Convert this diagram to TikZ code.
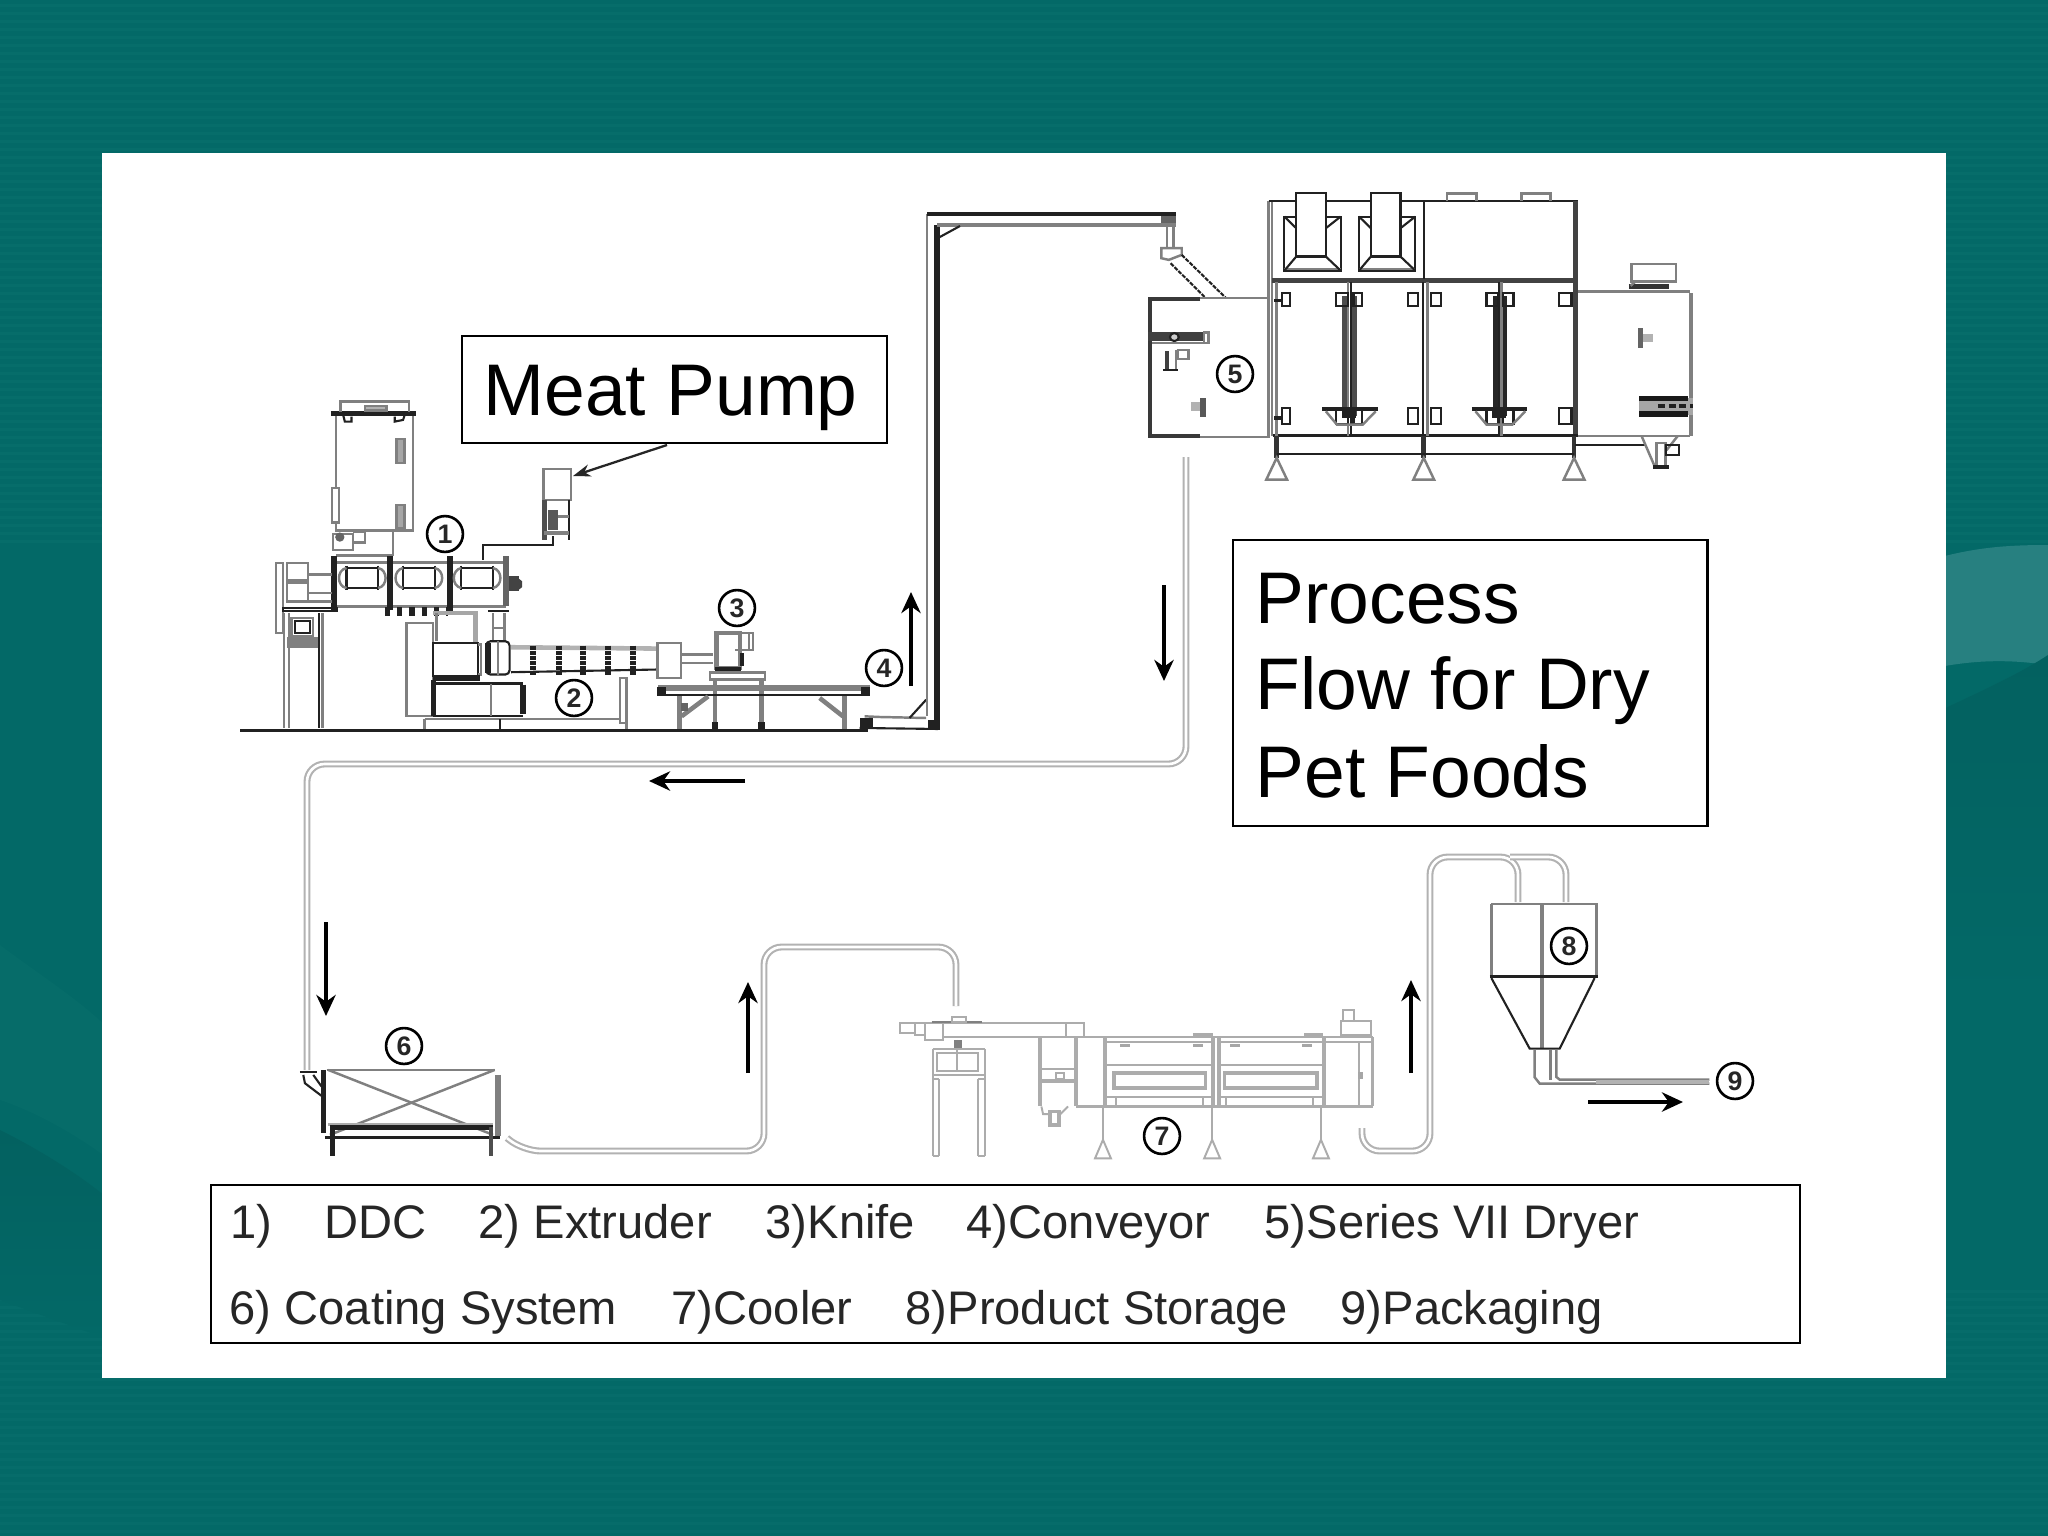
\documentclass[tikz,border=0pt]{standalone}
\usepackage{fontspec}
\setmainfont{Liberation Sans}
\usetikzlibrary{arrows.meta}
\definecolor{tealbg}{HTML}{036967}
\definecolor{tealstripe}{HTML}{0E7572}
\definecolor{tealswoosh}{HTML}{278080}
\definecolor{tealdark}{HTML}{036160}
\definecolor{tealmid}{HTML}{066C69}
\definecolor{gl}{gray}{0.5}
\definecolor{dk}{gray}{0.13}
\tikzset{
  z/.style 2 args={shift={(#1,#2)},x=0.0033333cm,y=-0.0033333cm},
  zw/.style 2 args={shift={(#1,#2)},x=0.0036996cm,y=-0.0033333cm},
  g/.style={draw=gl,line width=0.7pt},
  gt/.style={draw=gl,line width=1.3pt},
  k/.style={draw=dk,line width=0.6pt},
  kt/.style={draw=dk,line width=1.5pt},
  lg/.style={draw=gray!65,line width=0.55pt},
  lgt/.style={draw=gray!65,line width=1.1pt},
  label text/.style={font=\fontsize{20.8pt}{25pt}\selectfont,anchor=base west,inner sep=0pt,text=black},
  legend text/.style={font=\fontsize{13.4pt}{16pt}\selectfont,anchor=base west,inner sep=0pt,text=black!85},
  circnum/.style={circle,draw=black,line width=0.75pt,minimum size=10.2pt,inner sep=0pt,font=\fontsize{7.6pt}{8pt}\selectfont\bfseries,text=black!85},
  framebox/.style={draw=black,line width=0.7pt,fill=white,outer sep=0pt},
  flow/.style={draw=black,line width=1.35pt,-{Stealth[length=6pt,width=5.5pt]}},
  pipe/.style={draw=gray!60,double=white,double distance=0.75pt,line width=0.6pt,rounded corners=5pt},
}
\begin{document}
\begin{tikzpicture}[x=0.01cm,y=-0.01cm]
\useasboundingbox (0,0) rectangle (2048,1536);
% background
\fill[tealbg] (0,0) rectangle (2048,1536);
\foreach \yy in {4,12,...,540}{\fill[tealstripe,opacity=0.35] (0,\yy) rectangle (2048,\yy+2.5);}
\foreach \yy in {1290,1298,...,1536}{\fill[tealstripe,opacity=0.3] (0,\yy) rectangle (2048,\yy+2.5);}
\fill[tealswoosh] (1900,570) .. controls (1960,548) and (2000,545) .. (2048,545) -- (2048,665) .. controls (2000,658) and (1960,660) .. (1900,676) -- cycle;
\shade[top color=tealdark,bottom color=tealbg] (1900,730) .. controls (1960,700) and (2010,680) .. (2048,655) -- (2048,1000) -- (1900,1000) -- cycle;
\shade[top color=tealdark,bottom color=tealbg] (0,1130) .. controls (40,1150) and (80,1175) .. (110,1200) -- (110,1340) -- (0,1300) -- cycle;
\fill[tealmid] (0,945) .. controls (40,975) and (80,1000) .. (110,1030) -- (110,1160) .. controls (70,1130) and (30,1110) .. (0,1100) -- cycle;
% white panel
\fill[white] (102,153) rectangle (1946,1378);

% ---------- Machine group 1/2 (DDC, extruder, pump)
\begin{scope}[z={230}{380}]
  % hopper
  \draw[g] (318,100) rectangle (550,452);
  \draw[kt] (303,100) -- (560,100);
  \draw[g] (332,95) -- (332,65) -- (538,65) -- (538,95);
  \draw[g,fill=gray!60] (405,92) rectangle (470,78);
  \draw[k] (340,105) -- (345,125) -- (365,125) -- (365,110);
  \draw[k] (495,110) -- (495,125) -- (520,120) -- (525,105);
  \draw[g,fill=gray!70] (500,178) rectangle (524,250);
  \draw[g,fill=gray!70] (500,375) rectangle (524,445);
  \draw[g,fill=white] (307,325) rectangle (328,428);
  % valve below hopper
  \draw[g] (310,462) rectangle (370,510);
  \draw[g] (370,455) -- (405,455) -- (405,488) -- (370,488);
  \fill[dk!70] (330,472) circle (14);
  \draw[g] (490,452) -- (490,530);
  \draw[g] (320,528) -- (490,528);
  % barrels
  \draw[g] (320,548) -- (830,548);
  \draw[g] (320,680) -- (830,680);
  \draw[kt,line width=1.7pt] (312,530) -- (312,695);
  \draw[kt,line width=1.7pt] (482,530) -- (482,690);
  \draw[kt,line width=1.7pt] (660,530) -- (660,695);
  \draw[gt,draw=dk!70,line width=1.7pt] (830,530) -- (830,680);
  \foreach \xx in {350,520,695}{
    \draw[k] (\xx,565) -- (\xx+95,565);
    \draw[k] (\xx,625) -- (\xx+95,625);
    \draw[k] (\xx,558) -- (\xx,632);
    \draw[k] (\xx+95,558) -- (\xx+95,632);
    \draw[g] (\xx,565) .. controls (\xx-30,570) and (\xx-30,620) .. (\xx,625);
    \draw[g] (\xx+95,565) .. controls (\xx+125,570) and (\xx+125,620) .. (\xx+95,625);
  }
  \fill[dk!85] (838,590) rectangle (868,635);
  \fill[dk!85] (868,597) -- (878,605) -- (878,622) -- (868,630) -- cycle;
  % left gear
  \draw[g] (138,550) rectangle (160,760);
  \draw[g] (172,550) rectangle (235,665);
  \draw[gt] (172,605) -- (235,605);
  \draw[g] (235,585) -- (305,585);
  \draw[g] (235,640) -- (305,640);
  \draw[g] (235,665) -- (305,665);
  \draw[k] (160,685) -- (320,685) -- (320,695) -- (160,695) -- cycle;
  \draw[g] (163,700) -- (163,1045);
  \draw[g] (178,700) -- (178,1045);
  \draw[k] (268,700) -- (268,1045);
  \draw[g] (278,700) -- (278,1045);
  \draw[g] (185,715) rectangle (250,770);
  \draw[k] (195,725) rectangle (240,760);
  \fill[gl] (172,772) rectangle (265,805);
  % lower barrel link
  \draw[kt,dotted,line width=2.4pt] (465,695) -- (655,695);
  \draw[gt,draw=gray!70] (610,700) -- (738,700) -- (738,790);
  \draw[g] (620,700) -- (620,785);
  % stem
  \draw[g] (790,700) -- (790,785);
  \draw[g] (825,700) -- (825,785);
  \draw[k] (775,695) -- (838,695);
  \draw[g] (790,745) -- (825,745);
  % motor
  \draw[g] (530,730) rectangle (610,1010);
  \draw[k] (610,790) rectangle (745,890);
  \draw[g] (745,795) -- (755,795) -- (755,885) -- (745,885);
  \draw[kt] (610,895) -- (750,895);
  \draw[k] (610,912) -- (880,912);
  \draw[k] (610,1010) -- (880,1010);
  \draw[kt] (612,900) -- (612,1010);
  \draw[g] (785,912) -- (785,1010);
  \draw[kt] (880,915) -- (880,1005);
  \draw[g] (585,1018) -- (1170,1018);
  \draw[g] (585,1018) -- (585,1048);
  \draw[k] (810,1018) -- (810,1048);
  \draw[g] (1172,895) rectangle (1192,1030);
  \draw[g] (1192,1030) -- (1192,1050);
  % extruder barrel
  \draw[k,rounded corners=1.2pt] (770,785) rectangle (840,885);
  \draw[kt] (775,790) -- (775,880);
  \draw[g] (805,785) -- (805,885);
  \draw[gt,draw=gray!60] (845,803) -- (1280,807);
  \draw[k] (845,878) -- (1280,870);
  \foreach \xx in {910,990,1060,1135,1212}{\draw[dk,line width=1.7pt,dash pattern=on 1.2pt off 0.25pt] (\xx,798) -- (\xx,885);}
  \draw[g] (1285,790) rectangle (1355,895);
  \draw[g] (1355,825) -- (1450,825);
  \draw[g] (1355,850) -- (1450,850);
  % meat pump
  \draw[g] (942,268) rectangle (1025,360);
  \draw[kt,draw=dk!80] (945,360) -- (945,482);
  \draw[k] (1018,360) -- (1018,482);
  \fill[dk!75] (955,390) rectangle (985,450);
  \draw[g] (985,410) -- (1018,410);
  \draw[gt] (945,460) -- (1018,460);
  \draw[k] (760,540) -- (760,497) -- (970,497) -- (970,470);
\end{scope}

% ---------- knife, table, conveyor foot
\begin{scope}[z={620}{500}]
  \draw[gt] (290,400) rectangle (360,505);
  \draw[g] (345,400) -- (400,400) -- (400,450) -- (345,450);
  \draw[g] (388,400) -- (388,450);
  \fill[dk] (360,460) rectangle (372,500);
  \draw[kt] (285,510) -- (365,510);
  \draw[g] (270,518) rectangle (435,540);
  \draw[gt] (285,540) -- (285,685);
  \draw[gt] (425,540) -- (425,685);
  \fill[dk] (275,668) rectangle (295,688);
  \fill[dk] (415,668) rectangle (435,688);
  \draw[gt,line width=1.7pt] (115,565) -- (750,565);
  \draw[k] (115,587) -- (750,587);
  \fill[dk] (112,563) rectangle (138,590);
  \fill[dk] (725,563) rectangle (752,590);
  \draw[gt] (178,590) -- (178,690);
  \draw[gt] (675,590) -- (675,690);
  \draw[gt] (185,650) -- (265,590);
  \fill[dk!70] (183,610) rectangle (205,635);
  \draw[gt] (600,595) -- (670,650);
  % conveyor foot
  \draw[g] (735,650) -- (780,652) -- (920,655);
  \draw[k] (720,685) -- (955,688);
  \fill[dk] (722,655) rectangle (760,685);
  \draw[k] (870,655) -- (920,600);
  \fill[dk] (925,662) rectangle (955,690);
\end{scope}

% ---------- dryer
\begin{scope}[zw={1130}{180}]
  % conveyor head
  \fill[dk!70] (85,105) rectangle (125,135);
  \draw[g] (100,135) -- (100,200);
  \draw[g] (118,135) -- (118,200);
  \draw[g,fill=white] (85,205) -- (140,205) -- (140,225) -- (105,240) -- (85,235) -- cycle;
  \draw[k,dash pattern=on 1.2pt off 0.35pt] (110,250) -- (205,355);
  \draw[k,dash pattern=on 1.2pt off 0.35pt] (140,225) -- (260,355);
  % infeed box
  \draw[gt,draw=gray!45!black,line width=1.1pt] (190,358) -- (55,358) -- (55,770) -- (190,770);
  \draw[g] (190,355) -- (380,355);
  \draw[g] (190,773) -- (380,773);
  \draw[draw=gray!50!black,line width=2.6pt] (50,470) -- (200,470);
  \draw[g] (200,458) rectangle (212,490);
  \draw[k,fill=gray!40] (120,472) circle (12);
  \draw[g] (60,490) -- (200,490);
  \draw[g] (130,510) rectangle (158,538);
  \draw[gt,draw=gray!50!black] (100,515) -- (100,570);
  \draw[g] (125,510) -- (125,570);
  \draw[k] (90,572) -- (130,572);
  \fill[dk!75] (190,655) rectangle (206,712);
  \fill[gray!60] (165,668) rectangle (190,695);
  % dryer frame
  \draw[g] (375,62) -- (375,770);
  \draw[g] (385,62) -- (385,770);
  \draw[k] (375,62) -- (1212,62);
  \draw[kt,draw=dk!85] (385,301) -- (1205,301);
  \draw[kt,draw=dk!85] (1206,62) -- (1206,770);
  \draw[k] (796,62) -- (796,298);
  \draw[kt,line width=1pt] (388,768) -- (1212,768);
  \draw[g] (397,305) -- (397,768);
  \draw[g] (590,305) -- (590,768);
  \draw[k] (598,305) -- (598,768);
  \draw[k] (792,305) -- (792,770);
  \draw[g] (805,305) -- (805,768);
  \draw[k] (998,305) -- (998,768);
  \draw[g] (1005,305) -- (1005,768);
  \draw[gt,draw=gray!60!black] (580,350) -- (580,710);
  \draw[gt,draw=gray!60!black] (608,350) -- (608,710);
  \draw[gt,draw=gray!30!black] (990,350) -- (990,710);
  \draw[gt,draw=gray!30!black] (1015,350) -- (1015,710);
  % ducts
  \foreach \dd in {0,202}{
    \begin{scope}[xshift=\dd*0.0036996cm]
      \draw[k] (418,110) rectangle (570,272);
      \draw[g] (418,268) -- (570,268);
      \draw[k,fill=white] (450,40) -- (530,40) -- (530,230) -- (450,230) -- cycle;
      \draw[k] (450,230) -- (418,272);
      \draw[k] (530,230) -- (570,272);
      \draw[k] (418,110) -- (450,145);
      \draw[k] (570,110) -- (530,145);
    \end{scope}
  }
  \draw[g] (858,62) -- (858,40) -- (938,40) -- (938,62);
  \draw[g] (1060,62) -- (1060,40) -- (1138,40) -- (1138,62);
  % hinges
  \foreach \xa/\xb in {412/433,558/590,605/628,752/780,815/842,965/995,1010/1038,1162/1195}{
    \draw[k] (\xa,340) rectangle (\xb,378);
    \draw[k] (\xa,685) rectangle (\xb,733);
  }
  \draw[kt,line width=1pt] (390,362) -- (412,362);
  \draw[kt,line width=1pt] (390,715) -- (412,715);
  % funnels
  \foreach \dd in {0,405}{
    \begin{scope}[xshift=\dd*0.0036996cm]
      \draw[kt,line width=1.2pt] (520,688) -- (670,688);
      \draw[g] (530,695) -- (560,735) -- (630,735) -- (665,695);
      \fill[dk] (575,695) rectangle (612,715);
    \end{scope}
  }
  % legs
  \foreach \xx in {397,795,1202}{
    \draw[gt,draw=gray!40!black] (\xx,770) -- (\xx,835);
    \draw[g] (\xx,835) -- (\xx-28,900) -- (\xx+28,900) -- cycle;
  }
  \draw[k] (397,822) -- (1202,822);
  % right section
  \draw[g] (1212,335) -- (1515,335);
  \draw[gt] (1518,340) -- (1518,770);
  \draw[g] (1212,770) -- (1515,770);
  \draw[g] (1358,252) rectangle (1478,305);
  \draw[kt,draw=gray!40!black] (1350,320) -- (1460,320);
  \draw[g] (1368,305) -- (1355,318);
  \fill[dk!70] (1375,445) rectangle (1388,505);
  \fill[gray!60] (1388,462) rectangle (1415,488);
  \fill[gray!70] (1378,655) rectangle (1525,705);
  \draw[kt,draw=gray!20!black] (1378,657) -- (1510,657);
  \draw[kt,draw=gray!20!black] (1378,703) -- (1510,703);
  \draw[k,dash pattern=on 2pt off 1pt,line width=1.2pt] (1430,680) -- (1525,680);
  \draw[k] (1205,795) -- (1395,795);
  \draw[g] (1385,770) -- (1420,860);
  \draw[g] (1482,770) -- (1452,812);
  \draw[g] (1425,790) rectangle (1450,860);
  \draw[k] (1450,795) rectangle (1485,825);
  \draw[kt,line width=1.2pt] (1415,862) -- (1460,862);
\end{scope}

% ---------- coating system
\begin{scope}[z={280}{1020}]
  \draw[g] (140,150) -- (645,150);
  \draw[g] (145,150) -- (640,345);
  \draw[g] (645,150) -- (150,345);
  \fill[gray!65] (145,310) rectangle (640,318);
  \draw[kt] (130,150) -- (130,340);
  \draw[gt,line width=1.6pt] (655,165) -- (655,350);
  \draw[kt] (150,322) -- (640,322);
  \draw[k,line width=0.9pt] (135,352) -- (660,352);
  \draw[kt,line width=1.2pt] (158,322) -- (158,408);
  \draw[kt,line width=1.2pt,draw=dk!80] (633,322) -- (633,408);
  \draw[k] (60,155) -- (110,155);
  \draw[k] (70,165) -- (75,190) -- (125,228);
  \draw[k] (100,165) -- (125,200);
\end{scope}

% ---------- cooler
\begin{scope}[z={880}{980}]
  \draw[lg] (60,130) rectangle (105,160);
  \draw[lg] (105,130) rectangle (135,165);
  \draw[lg] (135,130) rectangle (190,180);
  \draw[lg] (190,130) -- (612,130) -- (612,172);
  \draw[lg] (190,172) -- (670,172);
  \draw[lg] (560,130) -- (560,172);
  \draw[g] (155,126) -- (305,126);
  \draw[lg] (215,112) rectangle (258,125);
  % stand
  \draw[lg] (158,208) -- (315,208);
  \draw[lg] (158,208) -- (158,530);
  \draw[lg] (315,208) -- (315,530);
  \draw[lg] (178,298) -- (178,530);
  \draw[lg] (295,298) -- (295,530);
  \draw[lg] (158,298) -- (178,298);
  \draw[lg] (295,298) -- (315,298);
  \draw[lg] (158,285) -- (315,285);
  \draw[lg] (172,220) rectangle (295,272);
  \draw[lg] (232,180) -- (232,270);
  \draw[lg] (158,530) -- (178,530);
  \draw[lg] (295,530) -- (315,530);
  \fill[gl] (222,180) rectangle (245,205);
  % hopper box
  \draw[lgt] (482,172) -- (482,380);
  \draw[lgt] (590,172) -- (590,380);
  \draw[lg] (482,268) -- (590,268);
  \draw[lgt] (482,303) -- (590,303);
  \draw[lg] (528,280) rectangle (552,296);
  \draw[lg] (485,380) -- (490,403) -- (510,403);
  \draw[lg] (565,380) -- (540,405);
  \draw[lgt] (512,395) rectangle (538,435);
  % main body
  \draw[lg] (590,172) -- (1480,172);
  \draw[lgt] (590,380) -- (1480,380);
  \foreach \xa/\xb in {680/1000,1020/1335}{
    \draw[lg] (\xa,187) -- (\xb,187);
    \draw[lg] (\xa,256) -- (\xb,256);
    \draw[lg] (\xa,352) -- (\xb,352);
  }
  \draw[lgt] (675,172) -- (675,380);
  \draw[lgt] (1000,172) -- (1000,380);
  \draw[lgt] (1018,172) -- (1018,380);
  \draw[lgt] (1335,172) -- (1335,380);
  \draw[lgt] (1480,172) -- (1480,380);
  \draw[lgt] (703,280) rectangle (978,325);
  \draw[lgt] (1035,280) rectangle (1312,325);
  \draw[lgt] (940,166) -- (1000,166);
  \draw[lgt] (1275,166) -- (1330,166);
  \foreach \xx in {720,940,1052,1268}{\fill[gray!70] (\xx,192) rectangle (\xx+30,202);}
  \foreach \xx in {710,970,1040,1300}{\draw[lg] (\xx,355) -- (\xx,378);}
  \draw[lg] (1440,187) -- (1440,380);
  \draw[lg] (1340,187) -- (1480,187);
  \draw[lg] (1385,122) rectangle (1475,165);
  \draw[lg] (1392,90) rectangle (1425,122);
  \fill[gray!70] (1437,275) rectangle (1450,298);
  % legs
  \foreach \xx in {670,998,1325}{
    \draw[lgt,line width=.7pt] (\xx,385) -- (\xx,480);
    \draw[lg] (\xx,480) -- (\xx-24,536) -- (\xx+24,536) -- cycle;
  }
\end{scope}

% ---------- storage hopper and outlet
\begin{scope}[z={1340}{840}]
  \draw[g] (455,192) -- (770,192) -- (770,410);
  \draw[g] (455,192) -- (455,410);
  \draw[gt] (607,192) -- (607,625);
  \draw[k,line width=0.9pt] (450,410) -- (775,410);
  \draw[k] (455,415) -- (570,627) -- (660,627) -- (765,415);
  \draw[g] (585,630) -- (585,713) -- (600,732) -- (1110,732);
  \draw[g] (632,630) -- (632,722);
  \draw[g] (650,630) -- (650,712) -- (660,720) -- (1110,720);
  \draw[gray!60,line width=1.2pt] (770,726) -- (1110,726);
\end{scope}

% ---------- conveyor rails (named ends)
\coordinate (cvbaseA) at (927,716);
\coordinate (cvcornerA) at (927,214);
\coordinate (cvheadA) at (1176,214);
\coordinate (cvbaseB) at (937,730);
\coordinate (cvcornerB) at (937,225);
\coordinate (cvheadB) at (1176,225);
\draw[g] (cvbaseA) -- (cvcornerA);
\draw[kt,line width=1.1pt] (cvcornerA) -- (cvheadA);
\draw[kt] (cvbaseB) -- (cvcornerB);
\draw[gt] (cvcornerB) -- (cvheadB);
\draw[k] (938,238) -- (960,226);

% ---------- pipes
\coordinate (dryerout) at (1186,457);
\coordinate (pipeA) at (1186,764);
\coordinate (pipeB) at (307,764);
\coordinate (coatin) at (307,1070);
\draw[pipe] (dryerout) -- (pipeA) -- (pipeB) -- (coatin);
\coordinate (coatout) at (507,1138);
\coordinate (pipeC) at (523,1151);
\coordinate (pipeD) at (764,1151);
\coordinate (pipeE) at (764,947);
\coordinate (pipeF) at (956,947);
\coordinate (coolin) at (956,1006);
\draw[pipe] (coatout) -- (pipeC) -- (pipeD) -- (pipeE) -- (pipeF) -- (coolin);
\coordinate (coolout) at (1362,1128);
\coordinate (pipeG) at (1362,1151);
\coordinate (pipeH) at (1430,1151);
\coordinate (pipeI) at (1430,857);
\coordinate (pipeJ) at (1510,857);
\coordinate (pipeK) at (1518,902);
\coordinate (pipeL) at (1518,857);
\coordinate (pipeM) at (1566,857);
\coordinate (pipeN) at (1566,902);
\draw[pipe] (coolout) -- (pipeG) -- (pipeH) -- (pipeI) -- (pipeL) -- (pipeK);
\draw[pipe] (pipeJ) -- (pipeM) -- (pipeN);

% ---------- flow arrows
\coordinate (aUp1s) at (911,686); \coordinate (aUp1e) at (911,592);
\draw[flow] (aUp1s) -- (aUp1e);
\coordinate (aD1s) at (1164,585); \coordinate (aD1e) at (1164,681);
\draw[flow] (aD1s) -- (aD1e);
\coordinate (aL1s) at (745,781); \coordinate (aL1e) at (649,781);
\draw[flow] (aL1s) -- (aL1e);
\coordinate (aD2s) at (326,922); \coordinate (aD2e) at (326,1016);
\draw[flow] (aD2s) -- (aD2e);
\coordinate (aU2s) at (748,1073); \coordinate (aU2e) at (748,982);
\draw[flow] (aU2s) -- (aU2e);
\coordinate (aU3s) at (1411,1073); \coordinate (aU3e) at (1411,980);
\draw[flow] (aU3s) -- (aU3e);
\coordinate (aR1s) at (1588,1102); \coordinate (aR1e) at (1683,1102);
\draw[flow] (aR1s) -- (aR1e);

% ---------- label boxes
\node[framebox,anchor=north west,minimum width=4.25cm,minimum height=1.07cm] (meatbox) at (462,336) {};
\node[label text] (meattext) at (483,415) {Meat Pump};
\coordinate (meattail) at (667,445);
\coordinate (pumptop) at (573,476);
\draw[draw=black!85,line width=0.65pt,-{Stealth[length=5pt,width=3.5pt]}] (meattail) -- (pumptop);

\node[framebox,anchor=north west,minimum width=4.74cm,minimum height=2.86cm] (procbox) at (1233,540) {};
\node[label text] (proc1) at (1255,623) {Process};
\node[label text] (proc2) at (1255,709) {Flow for Dry};
\node[label text] (proc3) at (1255,797) {Pet Foods};

\node[framebox,anchor=north west,minimum width=15.88cm,minimum height=1.58cm] (legendbox) at (211,1185) {};
\node[legend text] (l1a) at (230,1238) {1)};
\node[legend text] (l1b) at (324,1238) {DDC};
\node[legend text] (l2) at (478,1238) {2) Extruder};
\node[legend text] (l3) at (765,1238) {3)Knife};
\node[legend text] (l4) at (966,1238) {4)Conveyor};
\node[legend text] (l5) at (1264,1238) {5)Series VII Dryer};
\node[legend text] (l6) at (229,1324) {6) Coating System};
\node[legend text] (l7) at (671,1324) {7)Cooler};
\node[legend text] (l8) at (905,1324) {8)Product Storage};
\node[legend text] (l9) at (1340,1324) {9)Packaging};

% ---------- circled numbers
\node[circnum] (c1) at (445,534) {1};
\node[circnum] (c2) at (574,698) {2};
\node[circnum] (c3) at (737,608) {3};
\node[circnum] (c4) at (884,668) {4};
\node[circnum] (c5) at (1235,374) {5};
\node[circnum] (c6) at (404,1046) {6};
\node[circnum] (c7) at (1162,1136) {7};
\node[circnum] (c8) at (1569,946) {8};
\node[circnum] (c9) at (1735,1081) {9};

% ground line
\draw[kt,line width=0.85pt] (240,730) -- (868,730);
\end{tikzpicture}
\end{document}
